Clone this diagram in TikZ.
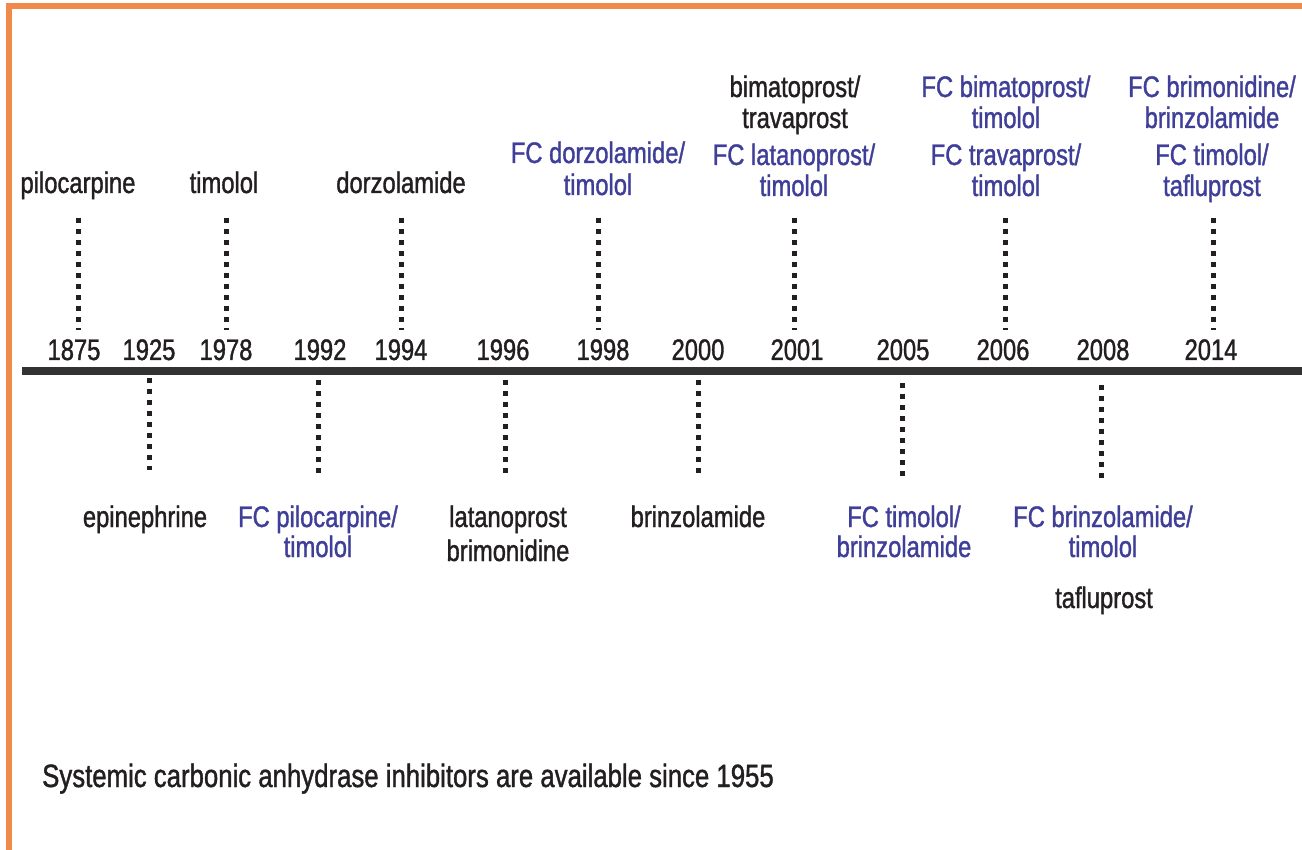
\documentclass[tikz,border=0pt]{standalone}
\usepackage{fontspec}
\setmainfont{Liberation Sans}[FakeStretch=0.8,FakeBold=1.2]
\definecolor{orng}{HTML}{F08A4B}
\definecolor{blu}{HTML}{3F3F99}
\definecolor{ink}{HTML}{231F20}
\definecolor{axis}{HTML}{333333}
\begin{document}
\begin{tikzpicture}[x=1pt,y=-1pt,
  lbl/.style={font=\fontsize{29.7}{33}\selectfont, text=ink, inner sep=0pt, anchor=base},
  fc/.style={lbl, text=blu},
  dots/.style={line width=5pt, dash pattern=on 5pt off 6pt, draw=ink}]
\useasboundingbox[fill=white] (0,0) rectangle (1302,850);
% frame
\draw[orng, line width=6pt] (8.5,850) -- (8.5,6) -- (1302,6);
% axis
\coordinate (axL) at (22,371);
\coordinate (axR) at (1302,371);
\draw[axis, line width=8pt] (axL) -- (axR);
% years
\foreach \n/\x in {1875/74,1925/149,1978/226,1992/320,1994/401,1996/503,1998/603,2000/698,2001/797,2005/903,2006/1003,2008/1103,2014/1211}
  \node[lbl] (y\n) at (\x,360) {\n};
% top labels
\node[lbl] (pilo) at (78,193) {pilocarpine};
\node[lbl] (timo) at (224,193) {timolol};
\node[lbl] (dorz) at (401,193) {dorzolamide};
\node[fc] (fcdorzA) at (598,163) {FC dorzolamide/};
\node[fc] (fcdorzB) at (598,195) {timolol};
\node[lbl] (bimaA) at (795,97) {bimatoprost/};
\node[lbl] (bimaB) at (795,128) {travaprost};
\node[fc] (fclatA) at (794,165) {FC latanoprost/};
\node[fc] (fclatB) at (794,196) {timolol};
\node[fc] (fcbimA) at (1006,97) {FC bimatoprost/};
\node[fc] (fcbimB) at (1006,128) {timolol};
\node[fc] (fctraA) at (1006,165) {FC travaprost/};
\node[fc] (fctraB) at (1006,196) {timolol};
\node[fc] (fcbriA) at (1212,97) {FC brimonidine/};
\node[fc] (fcbriB) at (1212,128) {brinzolamide};
\node[fc] (fctimA) at (1212,165) {FC timolol/};
\node[fc] (fctimB) at (1212,196) {tafluprost};
% bottom labels
\node[lbl] (epi) at (145,527) {epinephrine};
\node[fc] (fcpilA) at (318,527) {FC pilocarpine/};
\node[fc] (fcpilB) at (318,557) {timolol};
\node[lbl] (latA) at (508,527) {latanoprost};
\node[lbl] (latB) at (508,561) {brimonidine};
\node[lbl] (brinz) at (698,527) {brinzolamide};
\node[fc] (fctbA) at (904,527) {FC timolol/};
\node[fc] (fctbB) at (904,557) {brinzolamide};
\node[fc] (fcbtA) at (1103,527) {FC brinzolamide/};
\node[fc] (fcbtB) at (1103,557) {timolol};
\node[lbl] (taflu) at (1104,608) {tafluprost};
\node[lbl, anchor=base west, font=\fontsize{32.2}{36}\selectfont] (note) at (42,787) {Systemic carbonic anhydrase inhibitors are available since 1955};
% dotted connectors above the axis
\foreach \k/\x in {a/78,b/226,c/401,d/598,e/794,f/1005,g/1213}{
  \coordinate (t\k1) at (\x,218);
  \coordinate (t\k2) at (\x,330);
  \draw[dots] (t\k1) -- (t\k2);
}
% dotted connectors below the axis
\foreach \k/\x/\ya/\yb in {a/149/378/470,b/318/380/473,c/505/380/478,d/698/380/478,e/902/383/480,f/1101/385/482}{
  \coordinate (b\k1) at (\x,\ya);
  \coordinate (b\k2) at (\x,\yb);
  \draw[dots] (b\k1) -- (b\k2);
}
\end{tikzpicture}
\end{document}
